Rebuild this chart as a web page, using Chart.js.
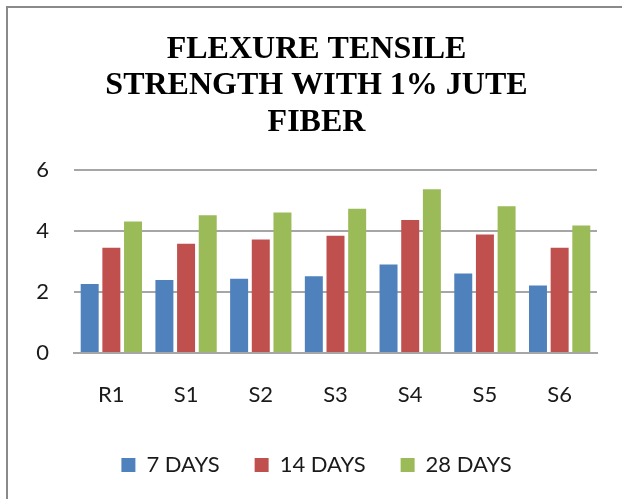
<!DOCTYPE html>
<html>
<head>
<meta charset="utf-8">
<script src="https://cdn.jsdelivr.net/npm/chart.js@4"></script>
<style>
  body { margin: 0; background: #fff; }
  #frame {
    position: absolute; left: 6px; top: 6px; width: 700px; height: 600px;
    border: 2px solid #8a8a8a;
  }
  #wrap { position: absolute; left: 0; top: 0; width: 622px; height: 499px; }
</style>
</head>
<body>
<div id="frame"></div>
<div id="wrap"><canvas id="flexureChart" width="622" height="499"></canvas></div>
<script>
var samples = ["R1", "S1", "S2", "S3", "S4", "S5", "S6"];
var days7 = [2.27, 2.40, 2.44, 2.52, 2.91, 2.61, 2.22];
var days14 = [3.46, 3.59, 3.73, 3.85, 4.37, 3.89, 3.46];
var days28 = [4.32, 4.53, 4.62, 4.74, 5.38, 4.82, 4.19];
var seriesNames = ["7 DAYS", "14 DAYS", "28 DAYS"];

var labelFont = { family: "Lato", size: 22 };

var ctx = document.getElementById("flexureChart").getContext("2d");
var flexureChart = new Chart(ctx, {
  type: "bar",
  data: {
    labels: samples,
    datasets: [
      { label: seriesNames[0], data: days7, backgroundColor: "#4f81bd" },
      { label: seriesNames[1], data: days14, backgroundColor: "#c0504d" },
      { label: seriesNames[2], data: days28, backgroundColor: "#9bbb59" },
    ],
  },
  options: {
    responsive: false,
    animation: false,
    categoryPercentage: 0.87,
    barPercentage: 0.83,
    layout: { padding: { left: 36, right: 25, top: 0, bottom: 13 } },
    plugins: {
      tooltip: { enabled: false },
      title: {
        display: true,
        text: ["FLEXURE TENSILE", "STRENGTH WITH 1% JUTE", "FIBER"],
        color: "#000",
        font: { family: "Liberation Serif", size: 32, weight: "bold", lineHeight: 1.15 },
        padding: { top: 31, bottom: 29 },
      },
      legend: {
        position: "bottom",
        labels: {
          color: "#1a1a1a",
          font: labelFont,
          boxWidth: 14,
          boxHeight: 14,
          padding: 35,
        },
      },
    },
    scales: {
      x: {
        afterFit: function (scale) { scale.height = 66; },
        grid: { display: false, drawTicks: false },
        border: { color: "#a6a6a6", width: 2 },
        ticks: { color: "#1a1a1a", font: labelFont, padding: 29 },
      },
      y: {
        min: 0,
        max: 6,
        afterFit: function (scale) { scale.width = 38; },
        grid: { color: "#a6a6a6", lineWidth: 2, drawTicks: false },
        border: { display: false },
        ticks: { stepSize: 2, color: "#1a1a1a", font: labelFont, padding: 25 },
      },
    },
  },
});
</script>
</body>
</html>
